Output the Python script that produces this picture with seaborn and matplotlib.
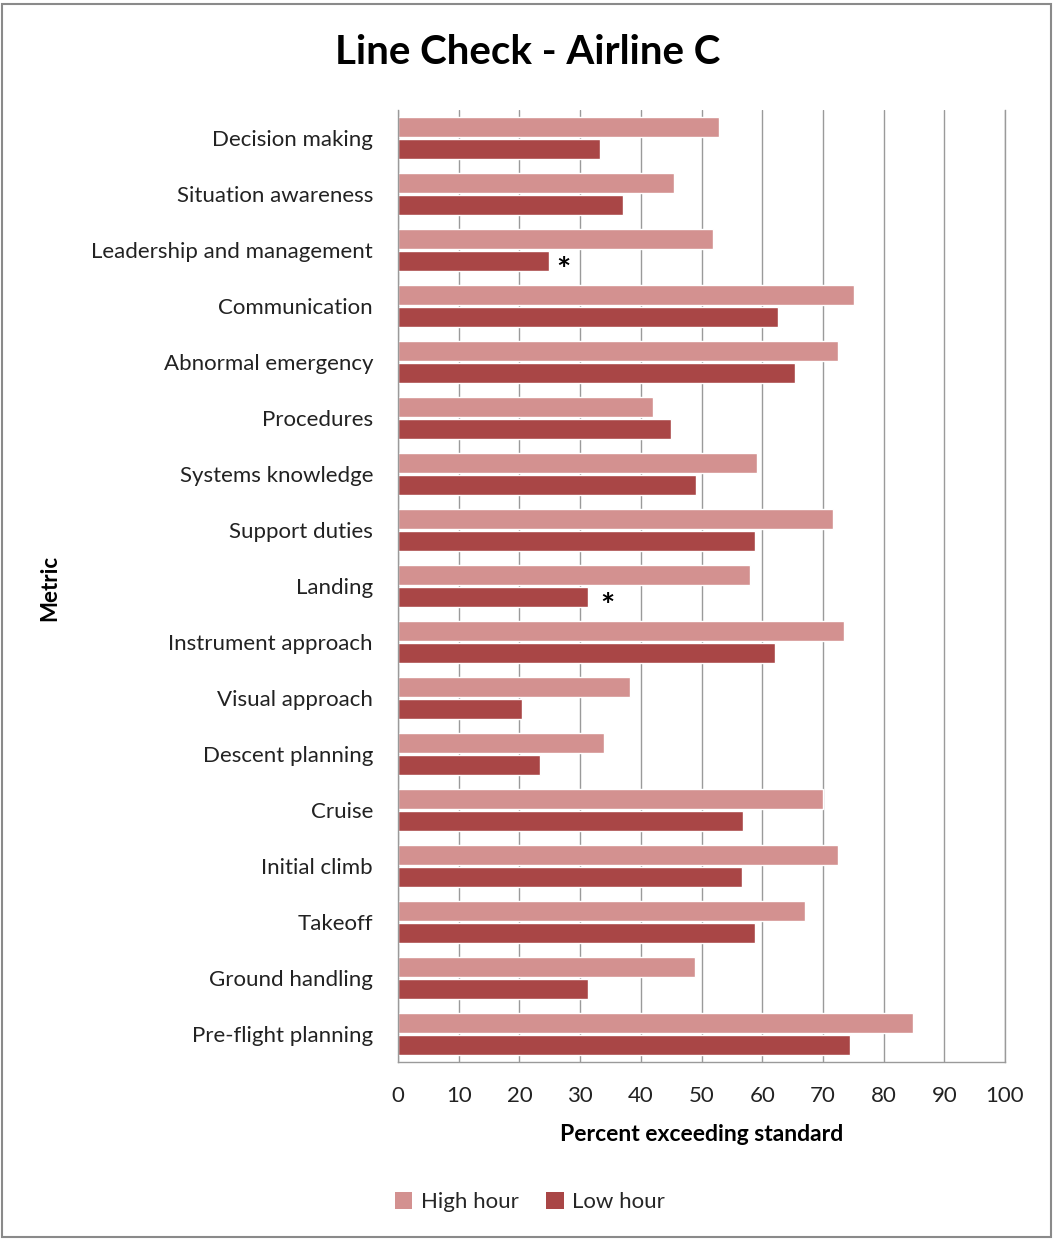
import matplotlib
matplotlib.use("Agg")
import matplotlib.pyplot as plt
import seaborn as sns
import pandas as pd
from matplotlib.patches import Rectangle, Patch

categories = ["Decision making", "Situation awareness", "Leadership and management",
              "Communication", "Abnormal emergency", "Procedures", "Systems knowledge",
              "Support duties", "Landing", "Instrument approach", "Visual approach",
              "Descent planning", "Cruise", "Initial climb", "Takeoff", "Ground handling",
              "Pre-flight planning"]
high_hour = [52.9, 45.5, 51.9, 75.1, 72.5, 42.0, 59.1, 71.7, 58.0, 73.5, 38.2,
             33.9, 70.0, 72.5, 67.1, 48.9, 84.8]
low_hour = [33.3, 37.1, 24.9, 62.6, 65.4, 45.0, 49.1, 58.8, 31.3, 62.1, 20.4,
            23.4, 56.8, 56.7, 58.8, 31.3, 74.5]
starred = ["Leadership and management", "Landing"]
series = ["High hour", "Low hour"]
colors = ["#D39190", "#A94646"]
xticks = [0, 10, 20, 30, 40, 50, 60, 70, 80, 90, 100]

df = pd.DataFrame({
    "Metric": categories * 2,
    "Value": high_hour + low_hour,
    "Series": [series[0]] * len(categories) + [series[1]] * len(categories),
})

sns.set_theme(style="white")
plt.rcParams["font.family"] = ["Lato", "DejaVu Sans"]

fig = plt.figure(figsize=(10.53, 12.39), dpi=100)
ax = fig.add_axes([398 / 1053, 1 - 1062 / 1239, (1005 - 398) / 1053, (1062 - 110) / 1239])

sns.barplot(data=df, y="Metric", x="Value", hue="Series", order=categories,
            hue_order=series, palette=colors, orient="h", width=0.8, gap=0.1,
            saturation=1, ax=ax, legend=False)

ax.set_xlim(0, 100)
ax.set_xticks(xticks)
ax.set_xticklabels([str(t) for t in xticks], fontsize=16, color="#222222")
ax.tick_params(axis="y", labelsize=16, labelcolor="#222222", length=0, pad=18)
ax.tick_params(axis="x", length=0, pad=17)
ax.grid(axis="x", color="#9a9a9a", linewidth=1.0)
ax.set_axisbelow(True)
for s in ["left", "bottom", "right"]:
    ax.spines[s].set_visible(True)
    ax.spines[s].set_color("#9a9a9a")
    ax.spines[s].set_linewidth(1.0)
ax.spines["top"].set_visible(False)
ax.set_ylim(len(categories) - 0.5, -0.5)

ax.set_xlabel("Percent exceeding standard", fontsize=16.5, fontweight="bold", labelpad=13,
              color="black")
ax.set_ylabel("")
fig.text(50 / 1053, 1 - 588 / 1239, "Metric", rotation=90, fontsize=16,
         fontweight="bold", ha="center", va="center", color="black")

# asterisks for significant differences
for cat in starred:
    i = categories.index(cat)
    v = low_hour[i]
    off = 1.2 if cat != "Landing" else 2.0
    ax.text(v + off, i + 0.38, "*", fontsize=24, fontweight="bold",
            ha="left", va="center", color="black")

fig.text(528 / 1053, 1 - 52 / 1239, "Line Check - Airline C", fontsize=29,
         fontweight="bold", ha="center", va="center", color="black")

handles = [Patch(facecolor=c, edgecolor="none") for c in colors]
fig.legend(handles, series, loc="center", bbox_to_anchor=(530 / 1053, 1 - 1202 / 1239),
           ncol=2, frameon=False, fontsize=16, handlelength=0.8, handleheight=0.8,
           handletextpad=0.4, columnspacing=1.2)

fig.patches.append(Rectangle((0.002, 0.002), 0.996, 0.995, transform=fig.transFigure,
                             fill=False, edgecolor="#8a8a8a", linewidth=1.5))

fig.savefig("out.png", dpi=100, facecolor="white")
